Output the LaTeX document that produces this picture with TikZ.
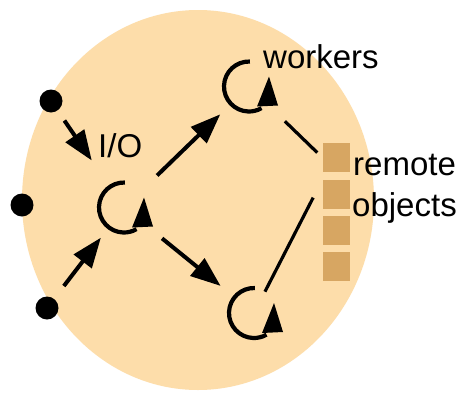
\documentclass[tikz,border=0pt]{standalone}
\usepackage{fontspec}
\setmainfont{Liberation Sans}
\usetikzlibrary{arrows.meta}
\definecolor{peach}{RGB}{253,221,170}
\definecolor{boxtan}{RGB}{215,166,98}
\begin{document}
\begin{tikzpicture}[x=1pt,y=1pt,
  dot/.style={circle,fill=black,inner sep=0pt,minimum size=23pt},
  arr/.style={line width=4pt,-{Triangle[length=30pt,width=22pt]}},
  link/.style={line width=3.2pt},
  obj/.style={fill=boxtan,draw=none,minimum width=27pt,minimum height=29pt,inner sep=0pt},
  lab/.style={anchor=base west,inner sep=0pt,font=\fontsize{33}{38}\selectfont},
  cyc/.pic={
    \draw[line width=4.2pt] (88:25pt) arc[start angle=88,end angle=300,radius=25pt];
    \fill (20,10) -- (8,-20) -- (29,-19) -- cycle;
  }]
\useasboundingbox (0,0) rectangle (460,-394);
\fill[white] (0,0) rectangle (460,-394);
\fill[peach] (198,-200) ellipse[x radius=176, y radius=190];
% remote objects
\node[obj] (b1) at (336,-157.5) {};
\node[obj] (b2) at (336,-194.5) {};
\node[obj] (b3) at (336,-230.5) {};
\node[obj] (b4) at (336,-266.5) {};
% outside dots
\node[dot] (d1) at (51,-101) {};
\node[dot] (d2) at (22,-205) {};
\node[dot] (d3) at (47,-308) {};
% worker symbols
\node[coordinate] (w0) at (124,-207.5) {};
\node[coordinate] (w1) at (249,-86.5) {};
\node[coordinate] (w2) at (254,-313) {};
\pic at (w0) {cyc};
\pic at (w1) {cyc};
\pic at (w2) {cyc};
% labels
\node[lab] (tw) at (263,-68) {workers};
\node[lab] (tio) at (98,-157) {I/O};
\node[lab] (tr) at (353,-175) {remote};
\node[lab] (to) at (352,-216) {objects};
% connectors
\draw[arr,shorten <=12pt,shorten >=57pt] (d1) -- (w0);
\draw[arr,shorten <=16pt,shorten >=38pt] (d3) -- (w0);
\draw[arr,shorten <=46pt,shorten >=40pt] (w0) -- (w1);
\draw[arr,shorten <=49pt,shorten >=43pt] (w0) -- (w2);
\draw[link,shorten <=50pt,shorten >=7pt] (w1) -- (b1.west);
\draw[link,shorten <=24pt,shorten >=20pt] (w2) -- (b2.north west);
\end{tikzpicture}
\end{document}
